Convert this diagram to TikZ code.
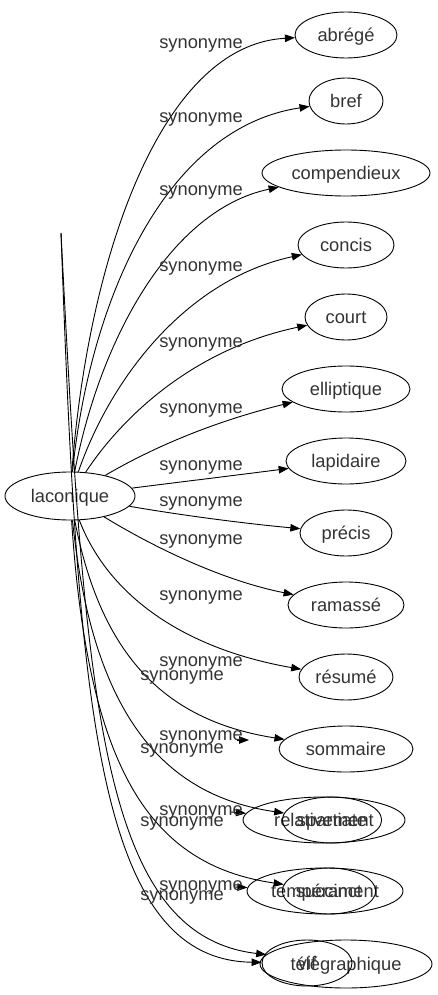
\documentclass[tikz,border=0pt]{standalone}
\usepackage{fontspec}
\setmainfont{Liberation Sans}
\usetikzlibrary{shapes.geometric,arrows.meta}
\begin{document}
\begin{tikzpicture}[x=1pt,y=-1pt,
  word/.style={ellipse, draw, line width=0.9pt, inner sep=0pt, minimum height=46pt, text=black!80, text height=15pt, text depth=2pt, font=\fontsize{18.3}{22}\selectfont},
  lbl/.style={inner sep=0pt, text=black!80, text height=9.5pt, text depth=0pt, font=\fontsize{18.3}{22}\selectfont},
  edge/.style={draw, line width=0.9pt, -{Triangle[length=10pt,width=7.5pt]}}]
\useasboundingbox (0,0) rectangle (438,995);
% nodes
\node[word, minimum width=130pt, minimum height=48pt] (lac) at (70,496) {laconique};
\node[word, minimum width=102pt] (abrege) at (346,35) {abrégé};
\node[word, minimum width=74pt] (bref) at (346,101) {bref};
\node[word, minimum width=168pt] (comp) at (346,173) {compendieux};
\node[word, minimum width=96pt] (concis) at (346,245) {concis};
\node[word, minimum width=82pt] (court) at (346,317) {court};
\node[word, minimum width=128pt] (ellip) at (346,389) {elliptique};
\node[word, minimum width=120pt] (lapid) at (346,461) {lapidaire};
\node[word, minimum width=92pt] (precis) at (346,533) {précis};
\node[word, minimum width=116pt] (ramasse) at (346,605) {ramassé};
\node[word, minimum width=94pt] (resume) at (346,677) {résumé};
\node[word, minimum width=134pt] (sommaire) at (346,749) {sommaire};
\node[word, minimum width=162pt] (relat) at (324,820) {relativement};
\node[word, minimum width=90pt] (spart) at (332,820) {spartiate};
\node[word, minimum width=156pt] (temper) at (325,891) {tempérament};
\node[word, minimum width=78pt] (succ) at (329,891) {succinct};
\node[word, minimum width=172pt, minimum height=48pt] (tele) at (346,964) {télégraphique};
\node[word, minimum width=90pt] (vif) at (307,963) {vif};
% free ends
\coordinate (top) at (61,233);
\coordinate (s1) at (237,740);
\coordinate (e1) at (249,740);
\coordinate (s2) at (231,812);
\coordinate (s3) at (235,887);
% edges
\draw[edge] (lac) .. controls (88,260) and (160,45) .. (abrege);
\draw[edge] (lac) .. controls (90,300) and (165,128) .. (bref);
\draw[edge] (lac) .. controls (100,340) and (170,210) .. (comp);
\draw[edge] (lac) .. controls (110,380) and (185,280) .. (concis);
\draw[edge] (lac) .. controls (120,420) and (190,350) .. (court);
\draw[edge] (lac) .. controls (140,455) and (200,425) .. (ellip);
\draw[edge] (lac) .. controls (180,482) and (230,476) .. (lapid);
\draw[edge] (lac) .. controls (180,515) and (240,523) .. (precis);
\draw[edge] (lac) .. controls (150,545) and (220,580) .. (ramasse);
\draw[edge] (lac) .. controls (110,600) and (190,650) .. (resume);
\draw[edge] (lac) .. controls (100,650) and (160,720) .. (sommaire);
\draw[edge] (lac) .. controls (92,710) and (160,795) .. (spart);
\draw[edge] (lac) .. controls (88,770) and (150,865) .. (succ);
\draw[edge] (top) .. controls (85,700) and (100,935) .. (tele);
\draw[edge] (top) .. controls (78,700) and (95,960) .. (vif);
\draw[edge] (s1) -- (e1);
\draw[edge] (s2) -- (relat);
\draw[edge] (s3) -- (temper);
% labels
\node[lbl] (l1) at (201,44) {synonyme};
\node[lbl] (l2) at (201,118) {synonyme};
\node[lbl] (l3) at (201,191) {synonyme};
\node[lbl] (l4) at (201,267) {synonyme};
\node[lbl] (l5) at (201,343) {synonyme};
\node[lbl] (l6) at (201,409) {synonyme};
\node[lbl] (l7) at (201,466) {synonyme};
\node[lbl] (l8) at (201,502) {synonyme};
\node[lbl] (l9) at (201,540) {synonyme};
\node[lbl] (l10) at (201,596) {synonyme};
\node[lbl] (l11) at (201,662) {synonyme};
\node[lbl] (l12) at (182,676) {synonyme};
\node[lbl] (l13) at (201,736) {synonyme};
\node[lbl] (l14) at (182,749) {synonyme};
\node[lbl] (l15) at (201,811) {synonyme};
\node[lbl] (l16) at (182,822) {synonyme};
\node[lbl] (l17) at (201,886) {synonyme};
\node[lbl] (l18) at (182,896) {synonyme};
\end{tikzpicture}
\end{document}
